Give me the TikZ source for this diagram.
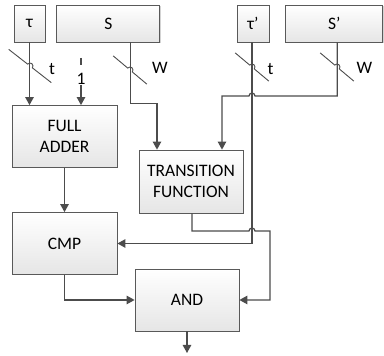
\documentclass[tikz,border=0pt]{standalone}
\usepackage{fontspec}
\setmainfont{Carlito}
\usepackage{tikz}
\usetikzlibrary{arrows.meta,positioning,calc,shadows}

\begin{document}
\begin{tikzpicture}[
  x=1pt, y=1pt,
  font=\fontsize{17.5pt}{21pt}\selectfont,
  node distance=11pt,
  block/.style={draw=black!65, line width=0.8pt, top color=white, bottom color=black!10, align=center, inner sep=2pt, drop shadow={opacity=0.35, shadow xshift=1pt, shadow yshift=-1pt}},
  reg/.style={block, minimum height=37pt},
  unit/.style={block, minimum width=104pt, minimum height=62pt},
  wire/.style={draw=black!70, line width=1.2pt},
  bus/.style={draw=black!70, line width=0.9pt},
  >={Triangle[length=8pt,width=8.5pt]}
]
\useasboundingbox (0,0) rectangle (384,356);

% registers
\node[reg, minimum width=31pt] (tau) at (29.5,332.5) {τ};
\node[reg, minimum width=103pt, right=of tau] (s) {S};
\node[reg, minimum width=32pt] (taup) at (253,332.5) {τ’};
\node[reg, minimum width=97pt, right=16pt of taup] (sp) {S’};

% logic blocks
\node[unit, minimum width=105pt] (fa) at (64.5,219.5) {FULL\\ADDER};
\node[unit, minimum height=63pt] (tf) at (191,174.5) {TRANSITION\\FUNCTION};
\node[unit, minimum width=105pt] (cmp) at (64.5,112.5) {CMP};
\node[unit] (and) at (187,56) {AND};

% constant input
\coordinate (onein) at (81,298);
\node[inner sep=0pt] (one) at (81,277) {1};
\coordinate (out) at (187,3);

\draw[wire, ->] (tau.south) -- (tau.south |- fa.north);
\draw[wire] (onein) -- ++(0,-7);
\draw[wire, ->] (one.south) -- (one.south |- fa.north);
\draw[wire, ->] ([xshift=22.5pt]s.south) -- ++(0,-61) -| ([xshift=-34pt]tf.north);
\draw[wire, ->] ([xshift=3pt]sp.south) |- (255,260)
  arc[start angle=0, end angle=180, radius=3] -| ([xshift=31pt]tf.north);
\draw[wire, ->] ([xshift=-1pt]taup.south) |- (cmp.east);
\draw[wire, ->] ([xshift=1pt]tf.south) |- (249,125)
  arc[start angle=180, end angle=0, radius=3] -- (270,125) |- (and.east);
\draw[wire, ->] (fa) -- (cmp);
\draw[wire, ->] (cmp.south) |- (and.west);
\draw[wire, ->] (and) -- (out);

% bus width marks
\coordinate (bt) at (30,290);
\coordinate (bs) at (130,286);
\coordinate (btp) at (252,289);
\coordinate (bsp) at (337,289);
\draw[bus] ($(bt)+(142:27)$) -- ($(bt)+(142:3)$) arc[start angle=142, end angle=-38, radius=3] -- ($(bt)+(-38:27)$);
\draw[bus] ($(bs)+(140:22)$) -- ($(bs)+(140:3)$) arc[start angle=140, end angle=-40, radius=3] -- ($(bs)+(-40:22)$);
\draw[bus] ($(btp)+(140:22)$) -- ($(btp)+(140:3)$) arc[start angle=140, end angle=-40, radius=3] -- ($(btp)+(-40:22)$);
\draw[bus] ($(bsp)+(140:22)$) -- ($(bsp)+(140:3)$) arc[start angle=140, end angle=-40, radius=3] -- ($(bsp)+(-40:22)$);
\node (lt) at (52,287) {t};
\node (ls) at (160,288) {W};
\node (ltp) at (270.5,287) {t};
\node (lsp) at (364.5,288) {W};
\end{tikzpicture}
\end{document}
